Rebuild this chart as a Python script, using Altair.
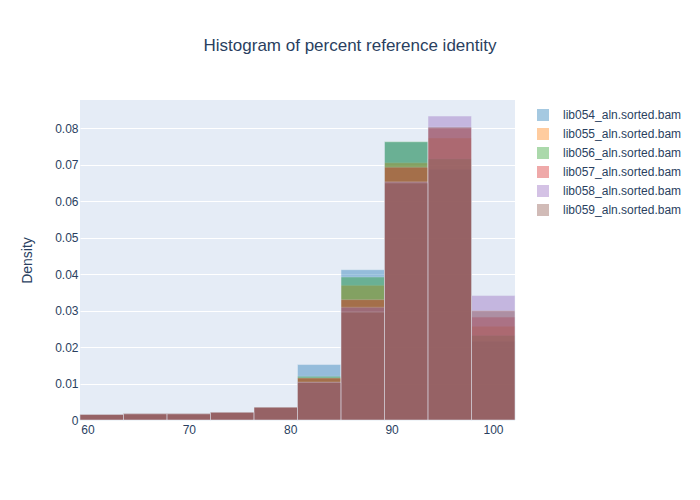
import altair as alt
import pandas as pd

# ---- data ----
bin_edges = [59.27, 63.56, 67.85, 72.14, 76.43, 80.72, 85.01, 89.30, 93.59, 97.88, 102.17]

series_names = [
    "lib054_aln.sorted.bam",
    "lib055_aln.sorted.bam",
    "lib056_aln.sorted.bam",
    "lib057_aln.sorted.bam",
    "lib058_aln.sorted.bam",
    "lib059_aln.sorted.bam",
]

lib054 = [0.0015, 0.0017, 0.0017, 0.0021, 0.0035, 0.0152, 0.0412, 0.0762, 0.0687, 0.0216]
lib055 = [0.0015, 0.0017, 0.0017, 0.0021, 0.0035, 0.0116, 0.0369, 0.0705, 0.0773, 0.0257]
lib056 = [0.0015, 0.0017, 0.0017, 0.0021, 0.0035, 0.0120, 0.0392, 0.0763, 0.0716, 0.0232]
lib057 = [0.0015, 0.0017, 0.0017, 0.0021, 0.0035, 0.0115, 0.0330, 0.0693, 0.0800, 0.0282]
lib058 = [0.0015, 0.0017, 0.0017, 0.0021, 0.0035, 0.0104, 0.0309, 0.0653, 0.0833, 0.0341]
lib059 = [0.0015, 0.0017, 0.0017, 0.0021, 0.0035, 0.0103, 0.0296, 0.0650, 0.0803, 0.0300]

colors = ["#1f77b4", "#ff7f0e", "#2ca02c", "#d62728", "#9467bd", "#8c564b"]
x_ticks = [60, 70, 80, 90, 100]
y_ticks = [0, 0.01, 0.02, 0.03, 0.04, 0.05, 0.06, 0.07, 0.08]

all_values = [lib054, lib055, lib056, lib057, lib058, lib059]
rows = []
for si, (name, vals) in enumerate(zip(series_names, all_values)):
    for bi, v in enumerate(vals):
        rows.append({
            "series": name,
            "order": si,
            "start": bin_edges[bi],
            "end": bin_edges[bi + 1],
            "density": v,
        })
df = pd.DataFrame(rows)

FONT = "Liberation Sans"
TXT = "#2a3f5f"

chart = alt.Chart(df).mark_rect(
    opacity=0.4, stroke="#E5ECF6", strokeWidth=0.5
).encode(
    x=alt.X("start:Q",
            scale=alt.Scale(domain=[bin_edges[0], bin_edges[-1]], nice=False, zero=False),
            axis=alt.Axis(title=None, values=x_ticks, grid=False, ticks=False, domain=False,
                          labelPadding=4, labelFontSize=12, labelColor=TXT, labelFont=FONT)),
    x2="end:Q",
    y=alt.Y("density:Q", stack=None,
            scale=alt.Scale(domain=[0, 0.0877], nice=False),
            axis=alt.Axis(title="Density", values=y_ticks, format=".2~f", grid=True,
                          gridColor="white", gridWidth=1, ticks=False, domain=False,
                          labelPadding=2, labelFontSize=12, labelColor=TXT, labelFont=FONT,
                          titleFontSize=14, titleColor=TXT, titleFont=FONT, titleFontWeight="normal",
                          titleX=-53, titleY=160, titleAngle=-90, titleAlign="center",
                          titleBaseline="middle")),
    y2=alt.datum(0),
    color=alt.Color("series:N",
                    scale=alt.Scale(domain=series_names, range=colors),
                    legend=alt.Legend(title=None, orient="none", legendX=457, legendY=9,
                                      symbolType="square", symbolSize=144, symbolOpacity=0.4,
                                      symbolStrokeWidth=0, labelFontSize=12, labelColor=TXT,
                                      labelFont=FONT, rowPadding=7, labelOffset=14)),
    order=alt.Order("order:Q"),
).properties(
    width=435,
    height=320,
    title=alt.TitleParams("Histogram of percent reference identity", anchor="middle",
                          dx=52.5, offset=45, fontSize=17, color=TXT, font=FONT,
                          fontWeight="normal"),
    padding={"left": 72, "top": 92, "right": 177, "bottom": 60},
    autosize=alt.AutoSizeParams(type="none"),
    background="white",
).configure_view(
    fill="#E5ECF6", stroke=None
)

chart.save("out.html", embed_options={"renderer": "svg", "actions": False})
